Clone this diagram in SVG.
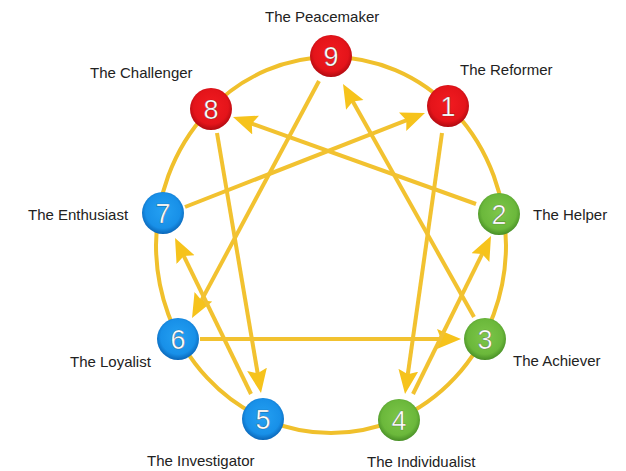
<svg xmlns="http://www.w3.org/2000/svg" width="626" height="471" viewBox="0 0 626 471">
<style>
.lbl{font-family:"Liberation Sans",Arial,sans-serif;font-size:15px;fill:#222}
.num{font-family:"Liberation Sans",Arial,sans-serif;font-size:27px;fill:#fff;stroke:rgba(0,0,0,0.35);stroke-width:0.7;text-anchor:middle}
.edge{stroke:#F2C230;stroke-width:4;fill:none;marker-end:url(#ah)}
.ring{stroke:#F0C02C;stroke-width:4;fill:none}
.nd{stroke-width:1}
</style>
<defs>
<marker id="ah" markerUnits="userSpaceOnUse" markerWidth="26" markerHeight="22" refX="12" refY="10" orient="auto" viewBox="0 0 26 22">
<path d="M0,0 L24,10 L0,20 L4,10 Z" fill="#F6C31C"/>
</marker>
<radialGradient id="gr" cx="50%" cy="45%" r="55%"><stop offset="0" stop-color="#F21B20"/><stop offset="0.75" stop-color="#E4141A"/><stop offset="1" stop-color="#B00A10"/></radialGradient>
<radialGradient id="gb" cx="50%" cy="45%" r="55%"><stop offset="0" stop-color="#24A0F2"/><stop offset="0.75" stop-color="#1890E8"/><stop offset="1" stop-color="#0A66B8"/></radialGradient>
<radialGradient id="gg" cx="50%" cy="45%" r="55%"><stop offset="0" stop-color="#7DC64A"/><stop offset="0.75" stop-color="#6BB83B"/><stop offset="1" stop-color="#488F26"/></radialGradient>
</defs>
<rect width="626" height="471" fill="#fff"/>
<ellipse class="ring" cx="331" cy="245" rx="175" ry="188"/>
<g id="connectors">
<line class="edge" x1="319" y1="81" x2="197.7" y2="307.4"/>
<line class="edge" x1="474" y1="317" x2="348.9" y2="94.5"/>
<line class="edge" x1="200" y1="339" x2="449" y2="339"/>
<line class="edge" x1="476" y1="204" x2="244.3" y2="121"/>
<line class="edge" x1="185" y1="207" x2="413.8" y2="117.4"/>
<line class="edge" x1="442" y1="133" x2="406.7" y2="382.1"/>
<line class="edge" x1="413" y1="394" x2="485.7" y2="246.8"/>
<line class="edge" x1="217" y1="133" x2="259" y2="381.2"/>
<line class="edge" x1="251" y1="394" x2="180.3" y2="248.8"/>
</g>
<g id="n9"><circle cx="331" cy="56" r="21" fill="url(#gr)"/><text class="num" x="331" y="66">9</text><text class="lbl" x="265" y="22">The Peacemaker</text></g>
<g id="n1"><circle cx="448" cy="106" r="21" fill="url(#gr)"/><text class="num" x="448" y="116">1</text><text class="lbl" x="460" y="75">The Reformer</text></g>
<g id="n8"><circle cx="211" cy="109" r="21" fill="url(#gr)"/><text class="num" x="211" y="119">8</text><text class="lbl" x="90" y="78">The Challenger</text></g>
<g id="n7"><circle cx="163" cy="213" r="21" fill="url(#gb)"/><text class="num" x="163" y="223">7</text><text class="lbl" x="28" y="220">The Enthusiast</text></g>
<g id="n2"><circle cx="499" cy="214" r="21" fill="url(#gg)"/><text class="num" x="499" y="224">2</text><text class="lbl" x="533" y="220">The Helper</text></g>
<g id="n6"><circle cx="178" cy="339" r="21" fill="url(#gb)"/><text class="num" x="178" y="349">6</text><text class="lbl" x="70" y="367">The Loyalist</text></g>
<g id="n3"><circle cx="485" cy="339" r="21" fill="url(#gg)"/><text class="num" x="485" y="349">3</text><text class="lbl" x="513" y="366">The Achiever</text></g>
<g id="n5"><circle cx="263" cy="419" r="21" fill="url(#gb)"/><text class="num" x="263" y="429">5</text><text class="lbl" x="147" y="466">The Investigator</text></g>
<g id="n4"><circle cx="399" cy="420" r="21" fill="url(#gg)"/><text class="num" x="399" y="430">4</text><text class="lbl" x="367" y="467">The Individualist</text></g>
</svg>
